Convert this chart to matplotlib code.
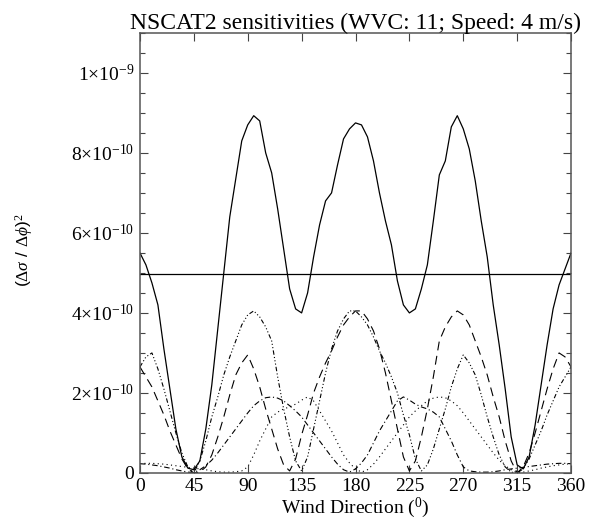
import matplotlib.pyplot as plt
import numpy as np

plt.rcParams['font.family'] = 'Liberation Serif'
plt.rcParams['mathtext.fontset'] = 'custom'
plt.rcParams['mathtext.rm'] = 'Liberation Serif'
plt.rcParams['mathtext.it'] = 'Liberation Serif:italic'

# direcao do vento (graus), passo de 5
direcao = list(range(0, 361, 5))

# sensibilidade total (x 1e-10)
total = [5.5, 5.2, 4.75, 4.2, 3.1, 2.1, 1.1, 0.4, 0.12, 0.08, 0.3, 1.1, 2.2,
         3.6, 5.0, 6.4, 7.35, 8.3, 8.7, 8.93, 8.8, 8.0, 7.5, 6.6, 5.6, 4.6,
         4.1, 4.0, 4.5, 5.4, 6.2, 6.8, 7.0, 7.7, 8.35, 8.6, 8.75, 8.7, 8.4,
         7.8, 7.0, 6.3, 5.7, 4.8, 4.2, 4.0, 4.1, 4.6, 5.2, 6.3, 7.45, 7.8,
         8.65, 8.93, 8.6, 8.1, 7.3, 6.3, 5.4, 4.2, 3.2, 2.1, 0.9, 0.2, 0.1,
         0.4, 1.2, 2.2, 3.2, 4.1, 4.7, 5.1, 5.5]
media = 4.97

# feixes individuais (x 1e-10)
feixe_1 = [2.65, 2.9, 3.0, 2.6, 2.1, 1.55, 1.0, 0.5, 0.15, 0.0, 0.3, 0.8, 1.4,
           1.9, 2.45, 2.9, 3.3, 3.7, 3.95, 4.05, 3.9, 3.65, 3.3, 2.4, 1.6, 0.9,
           0.3, 0.05, 0.4, 1.1, 1.8, 2.5, 3.1, 3.55, 3.85, 4.05, 4.05, 3.9, 3.7,
           3.4, 3.05, 2.75, 2.4, 2.0, 1.45, 0.95, 0.35, 0.05, 0.2, 0.6, 1.1,
           1.6, 2.15, 2.6, 2.95, 2.75, 2.45, 1.95, 1.4, 0.9, 0.45, 0.15, 0.02,
           0.0, 0.1, 0.35, 0.7, 1.05, 1.45, 1.8, 2.15, 2.4, 2.65]
feixe_2 = [2.65, 2.4, 2.15, 1.8, 1.45, 1.05, 0.7, 0.35, 0.1, 0.0, 0.02, 0.15,
           0.45, 0.9, 1.4, 1.95, 2.45, 2.75, 2.95, 2.6, 2.15, 1.6, 1.1, 0.6, 0.2,
           0.05, 0.35, 0.95, 1.45, 2.0, 2.4, 2.75, 3.05, 3.4, 3.7, 3.9, 4.05,
           4.05, 3.85, 3.55, 3.1, 2.5, 1.8, 1.1, 0.4, 0.05, 0.3, 0.9, 1.6, 2.4,
           3.3, 3.65, 3.9, 4.05, 3.95, 3.7, 3.3, 2.9, 2.45, 1.9, 1.4, 0.8, 0.3,
           0.0, 0.15, 0.5, 1.0, 1.55, 2.1, 2.6, 3.0, 2.9, 2.65]
feixe_3 = [0.23, 0.22, 0.2, 0.18, 0.15, 0.12, 0.08, 0.05, 0.02, 0.01, 0.08,
           0.18, 0.32, 0.5, 0.7, 0.9, 1.1, 1.3, 1.5, 1.68, 1.8, 1.88, 1.9, 1.87,
           1.8, 1.68, 1.55, 1.4, 1.2, 1.0, 0.8, 0.6, 0.4, 0.22, 0.08, 0.02, 0.1,
           0.25, 0.45, 0.75, 1.05, 1.3, 1.55, 1.8, 1.9, 1.82, 1.72, 1.65, 1.6,
           1.52, 1.4, 1.1, 0.8, 0.45, 0.15, 0.05, 0.03, 0.02, 0.02, 0.03, 0.05,
           0.08, 0.1, 0.12, 0.14, 0.16, 0.18, 0.2, 0.22, 0.23, 0.24, 0.24, 0.23]
feixe_4 = [0.23, 0.24, 0.24, 0.23, 0.22, 0.2, 0.18, 0.16, 0.14, 0.12, 0.1,
           0.08, 0.05, 0.03, 0.02, 0.02, 0.03, 0.05, 0.15, 0.45, 0.8, 1.1, 1.4,
           1.52, 1.6, 1.65, 1.72, 1.82, 1.9, 1.8, 1.55, 1.3, 1.05, 0.75, 0.45,
           0.25, 0.1, 0.02, 0.08, 0.22, 0.4, 0.6, 0.8, 1.0, 1.2, 1.4, 1.55, 1.68,
           1.8, 1.87, 1.9, 1.88, 1.8, 1.68, 1.5, 1.3, 1.1, 0.9, 0.7, 0.5, 0.32,
           0.18, 0.08, 0.01, 0.02, 0.05, 0.08, 0.12, 0.15, 0.18, 0.2, 0.22, 0.23]

escala = 1e-10

fig = plt.figure(figsize=(5.93, 5.22), dpi=100)
ax = fig.add_axes([0.236, 0.094, 0.727, 0.843])

ax.plot(direcao, np.array(total) * escala, color='black', lw=0.9)
ax.axhline(media * escala, color='black', lw=0.9)
ax.plot(direcao, np.array(feixe_1) * escala, color='black', lw=0.8,
        linestyle=(0, (4, 2, 1, 2, 1, 2, 1, 2)))
ax.plot(direcao, np.array(feixe_2) * escala, color='black', lw=0.8,
        linestyle=(0, (8, 5)))
ax.plot(direcao, np.array(feixe_3) * escala, color='black', lw=0.8,
        linestyle=(0, (5, 2.5, 1, 2.5)))
ax.plot(direcao, np.array(feixe_4) * escala, color='black', lw=0.8,
        linestyle=(0, (1, 3)))

ax.set_xlim(0, 360)
ax.set_ylim(0, 1.1e-9)
ax.set_xticks(range(0, 361, 45))
yt = [0, 2e-10, 4e-10, 6e-10, 8e-10, 1e-9]
ax.set_yticks(yt)
ax.set_yticklabels(['0', r'$2{\times}10^{-10}$', r'$4{\times}10^{-10}$',
                    r'$6{\times}10^{-10}$', r'$8{\times}10^{-10}$', r'$1{\times}10^{-9}$'])
ax.set_yticks(np.arange(0, 1.11e-9, 0.5e-10), minor=True)
ax.tick_params(direction='in', top=True, right=True, length=6, width=0.8,
               labelsize=14, color='#444444', pad=4)
ax.tick_params(which='minor', direction='in', right=True, length=3.5, width=0.8,
               color='#444444')
for s in ax.spines.values():
    s.set_color('#555555')
    s.set_linewidth(1.1)

ax.set_title('NSCAT2 sensitivities (WVC: 11; Speed: 4 m/s)', fontsize=17, pad=3)
ax.set_xlabel(r'Wind Direction ($^0$)', fontsize=14, labelpad=0)
fig.text(0.04, 0.52, r'($\Delta\sigma$ / $\Delta\phi$)$^2$', rotation=90,
         family='Liberation Sans', fontsize=12.5, ha='center', va='center')

plt.savefig('out.png', dpi=100)
